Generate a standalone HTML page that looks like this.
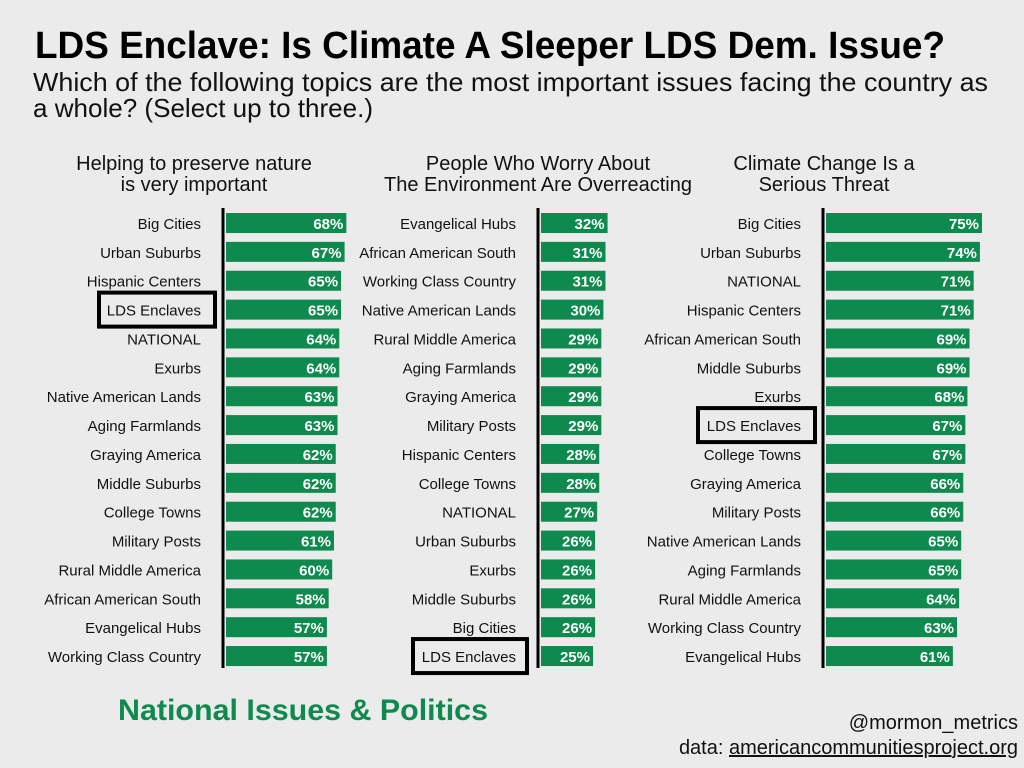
<!DOCTYPE html>
<html><head><meta charset="utf-8"><style>
body{margin:0;background:#ebebeb;}
svg{display:block;font-family:"Liberation Sans",sans-serif;}
</style></head><body>
<svg id="c" width="1024" height="768" viewBox="0 0 1024 768">
<rect width="1024" height="768" fill="#ebebeb"/>
<text x="35" y="58" font-size="38" font-weight="bold" fill="#000" textLength="910" lengthAdjust="spacingAndGlyphs">LDS Enclave: Is Climate A Sleeper LDS Dem. Issue?</text>
<text x="33" y="91" font-size="26" fill="#111" textLength="955" lengthAdjust="spacingAndGlyphs">Which of the following topics are the most important issues facing the country as</text>
<text x="33" y="117" font-size="26" fill="#111" textLength="340" lengthAdjust="spacingAndGlyphs">a whole? (Select up to three.)</text>
<text x="118" y="720" font-size="30" font-weight="bold" fill="#0e8a4f" textLength="370" lengthAdjust="spacingAndGlyphs">National Issues &amp; Politics</text>
<text x="1018" y="729" font-size="20" fill="#111" text-anchor="end">@mormon_metrics</text>
<text x="1018" y="754" font-size="20" fill="#111" text-anchor="end">data: <tspan text-decoration="underline">americancommunitiesproject.org</tspan></text>
<g id="g"></g>
</svg>
<script>
const p1Cats=["Big Cities","Urban Suburbs","Hispanic Centers","LDS Enclaves","NATIONAL","Exurbs","Native American Lands","Aging Farmlands","Graying America","Middle Suburbs","College Towns","Military Posts","Rural Middle America","African American South","Evangelical Hubs","Working Class Country"];
const p1Vals=[68,67,65,65,64,64,63,63,62,62,62,61,60,58,57,57];
const p2Cats=["Evangelical Hubs","African American South","Working Class Country","Native American Lands","Rural Middle America","Aging Farmlands","Graying America","Military Posts","Hispanic Centers","College Towns","NATIONAL","Urban Suburbs","Exurbs","Middle Suburbs","Big Cities","LDS Enclaves"];
const p2Vals=[32,31,31,30,29,29,29,29,28,28,27,26,26,26,26,25];
const p3Cats=["Big Cities","Urban Suburbs","NATIONAL","Hispanic Centers","African American South","Middle Suburbs","Exurbs","LDS Enclaves","College Towns","Graying America","Military Posts","Native American Lands","Aging Farmlands","Rural Middle America","Working Class Country","Evangelical Hubs"];
const p3Vals=[75,74,71,71,69,69,68,67,67,66,66,65,65,64,63,61];
const titles=[["Helping to preserve nature","is very important"],["People Who Worry About","The Environment Are Overreacting"],["Climate Change Is a","Serious Threat"]];
const panels=[
 {cats:p1Cats,vals:p1Vals,axis:223,scale:1.77,tx:194,box:[99,215]},
 {cats:p2Cats,vals:p2Vals,axis:538,scale:2.08,tx:538,box:[413,527]},
 {cats:p3Cats,vals:p3Vals,axis:823,scale:2.08,tx:824,box:[698,815]}];
const NS="http://www.w3.org/2000/svg",g=document.getElementById('g');
function mk(t,a,txt){const e=document.createElementNS(NS,t);for(const k in a)e.setAttribute(k,a[k]);if(txt!=null)e.textContent=txt;g.appendChild(e);return e;}
const y=i=>223+i*28.87;
panels.forEach((p,pi)=>{
 titles[pi].forEach((l,li)=>{const t=mk('text',{x:p.tx,y:170+li*21,'font-size':20,'text-anchor':'middle',fill:'#111'},l);
  
  });
 p.cats.forEach((c,i)=>{
  const cy=y(i);
  const lb=mk('text',{x:p.axis-22,y:cy+6,'font-size':15,'text-anchor':'end',fill:'#111'},c);
  
  
  const w=p.vals[i]*p.scale;
  const b=mk('rect',{x:p.axis+3,y:cy-10,width:w,height:20,fill:'#0e8a4f'});
  
  
  const v=mk('text',{x:p.axis+3+w-3,y:cy+6,'font-size':15,'font-weight':'bold','text-anchor':'end',fill:'#fff'},p.vals[i]+'%');
  
  
  if(c==="LDS Enclaves"){const r=mk('rect',{x:p.box[0],y:cy-17,width:p.box[1]-p.box[0],height:34,fill:'none',stroke:'#000','stroke-width':4});
   
   }
 });
 const ax=mk('line',{x1:p.axis,x2:p.axis,y1:208,y2:668,stroke:'#000','stroke-width':3});
 
 
});
</script>
</body></html>
